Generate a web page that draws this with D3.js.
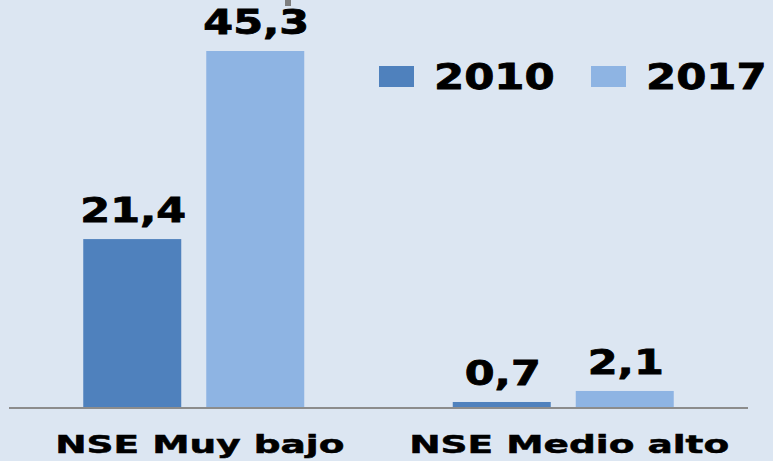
<!DOCTYPE html>
<html><head><meta charset="utf-8">
<script src="https://cdn.jsdelivr.net/npm/d3@7"></script>
<style>html,body{margin:0;padding:0;background:#dce6f2;}svg{display:block;}</style>
</head><body>
<div id="chart"></div>
<script>
const categories = ["NSE Muy bajo", "NSE Medio alto"];
const seriesNames = ["2010", "2017"];
const values2010 = [21.4, 0.7];
const values2017 = [45.3, 2.1];
const colors = ["#4f81bd", "#8eb4e3"];

const W = 773, H = 461;
const svg = d3.select("#chart").append("svg").attr("width", W).attr("height", H);
svg.append("rect").attr("width", W).attr("height", H).attr("fill", "#dce6f2");

const x0 = d3.scaleBand().domain(categories).range([9, 748]).paddingInner(0).paddingOuter(0);
const barW = 98, gap = 25;
const y = d3.scaleLinear().domain([0, 45.3]).range([407.5, 51]);

const fmt = v => String(v).replace(".", ",");
const data = categories.map((c, i) => ({cat: c, vals: [values2010[i], values2017[i]]}));

// small artifact mark at top
svg.append("rect").attr("x", 285).attr("y", 0).attr("width", 6).attr("height", 6).attr("fill", "#7f7f7f");

const groups = svg.selectAll("g.grp").data(data).join("g").attr("class", "grp")
  .attr("transform", d => `translate(${x0(d.cat)},0)`);

const bandPad = (x0.bandwidth() - (2 * barW + gap)) / 2;
groups.each(function(d) {
  const g = d3.select(this);
  d.vals.forEach((v, j) => {
    const bx = bandPad + j * (barW + gap);
    g.append("rect").attr("x", bx).attr("y", y(v)).attr("width", barW)
      .attr("height", y(0) - y(v)).attr("fill", colors[j]);
    g.append("text").attr("transform", `translate(${bx + barW / 2 + 1},${y(v) - 17}) scale(1.3,1)`)
      .attr("text-anchor", "middle").attr("font-family", "DejaVu Sans").attr("font-weight", "bold")
      .attr("font-size", 33).attr("fill", "#000").attr("stroke", "#000").attr("stroke-width", 0.8)
      .text(fmt(v));
  });
});

// axis baseline
svg.append("line").attr("x1", 9).attr("x2", 748).attr("y1", y(0) + 0.5).attr("y2", y(0) + 0.5)
  .attr("stroke", "#8c8c8c").attr("stroke-width", 2);

// category labels
svg.selectAll("text.cat").data(categories).join("text").attr("class", "cat")
  .attr("transform", c => `translate(${x0(c) + x0.bandwidth() / 2 + 6},453) scale(1.5,1)`)
  .attr("text-anchor", "middle").attr("font-family", "DejaVu Sans").attr("font-weight", "bold")
  .attr("font-size", 25).attr("fill", "#000").attr("stroke", "#000").attr("stroke-width", 0.5)
  .text(c => c);

// legend
const legX = [379, 591];
seriesNames.forEach((s, j) => {
  svg.append("rect").attr("x", legX[j]).attr("y", 66).attr("width", 35).attr("height", 21).attr("fill", colors[j]);
  svg.append("text").attr("transform", `translate(${legX[j] + 55},89) scale(1.24,1)`)
    .attr("font-family", "DejaVu Sans").attr("font-weight", "bold").attr("font-size", 35)
    .attr("fill", "#000").attr("stroke", "#000").attr("stroke-width", 0.8).text(s);
});
</script>
</body></html>
